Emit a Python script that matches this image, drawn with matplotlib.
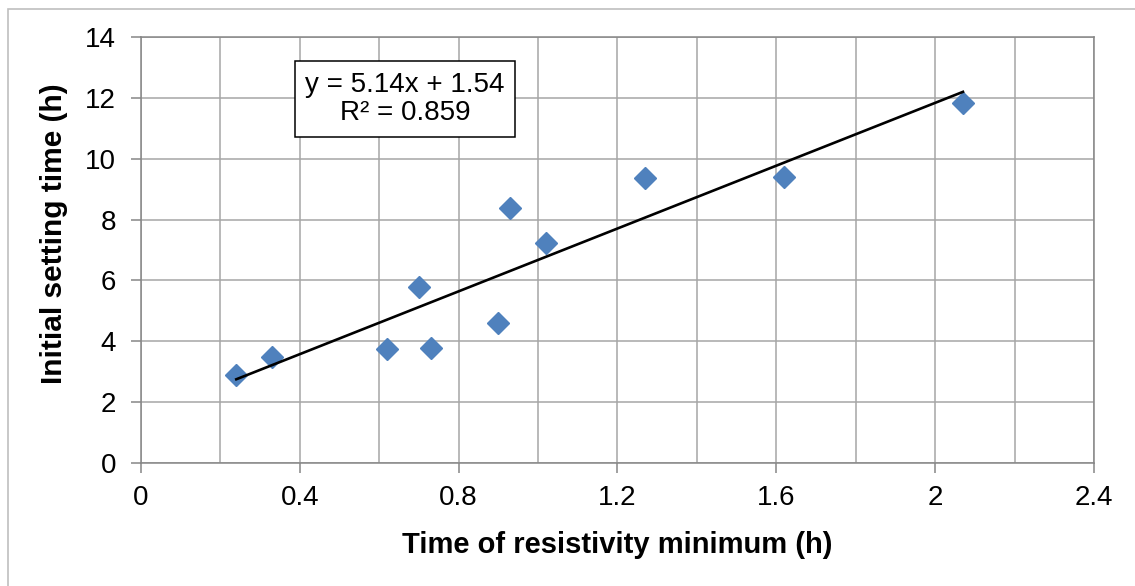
"""Initial setting time vs. time of resistivity minimum, with linear trend line."""

import matplotlib

matplotlib.use("Agg")
import matplotlib.pyplot as plt
import numpy as np
from matplotlib.patches import Rectangle

plt.rcParams["font.family"] = ["Liberation Sans", "DejaVu Sans"]

# values
resistivity_min_h = [0.24, 0.33, 0.62, 0.70, 0.73, 0.90, 0.93, 1.02, 1.27, 1.62, 2.07]
initial_setting_h = [2.89, 3.47, 3.74, 5.79, 3.77, 4.59, 8.37, 7.24, 9.37, 9.40, 11.84]
x_ticks = [0, 0.4, 0.8, 1.2, 1.6, 2.0, 2.4]
x_tick_labels = ["0", "0.4", "0.8", "1.2", "1.6", "2", "2.4"]
x_minor = [0.2, 0.6, 1.0, 1.4, 1.8, 2.2]
y_ticks = [0, 2, 4, 6, 8, 10, 12, 14]
trend_label = "y = 5.14x + 1.54\nR\u00b2 = 0.859"

GRID = "#a6a6a6"
AXIS = "#868686"
BLUE = "#4F81BD"

fig = plt.figure(figsize=(11.35, 5.86), dpi=100)
ax = fig.add_axes([0.1242, 0.2099, 0.8397, 0.7270])

x = np.asarray(resistivity_min_h)
y = np.asarray(initial_setting_h)
slope, intercept = np.polyfit(x, y, 1)
x_fit = np.array([x.min(), x.max()])

ax.plot(x, y, linestyle="none", marker="D", markersize=11, color=BLUE, zorder=3)
ax.plot(x_fit, slope * x_fit + intercept, color="black", linewidth=1.9, zorder=4)

ax.set_xlim(0, 2.4)
ax.set_ylim(0, 14)
ax.set_xticks(x_ticks)
ax.set_xticklabels(x_tick_labels)
ax.set_xticks(x_minor, minor=True)
ax.set_yticks(y_ticks)

ax.grid(True, which="both", axis="x", color=GRID, linewidth=1.1)
ax.grid(True, which="major", axis="y", color=GRID, linewidth=1.1)
ax.set_axisbelow(True)
for spine in ax.spines.values():
    spine.set_color(AXIS)
    spine.set_linewidth(1.1)
ax.tick_params(which="major", direction="out", length=7, width=1.1, color=AXIS,
               labelsize=20)
ax.tick_params(axis="x", which="major", pad=9)
ax.tick_params(axis="y", which="major", pad=11)
ax.tick_params(which="minor", length=0)

ax.set_xlabel("Time of resistivity minimum (h)", fontsize=21, fontweight="bold", labelpad=14)
ax.set_ylabel("Initial setting time (h)", fontsize=21.5, fontweight="bold")
# the label sits a little above the axis middle in the reference
ax.yaxis.set_label_coords(-0.0766, 0.5376)

ax.text(0.665, 11.96, trend_label, ha="center", va="center", fontsize=20,
        linespacing=1.1, zorder=5,
        bbox=dict(boxstyle="square,pad=0.38", facecolor="white", edgecolor="black", linewidth=1.1))

# chart-area border (only left and top edges show in the reference)
fig.add_artist(Rectangle((7.5 / 1135, -0.1), 1.2, (586 - 8.5) / 586 + 0.1,
                         transform=fig.transFigure, fill=False,
                         edgecolor="#bfbfbf", linewidth=1.2, clip_on=False))

fig.savefig("out.png", dpi=100)
